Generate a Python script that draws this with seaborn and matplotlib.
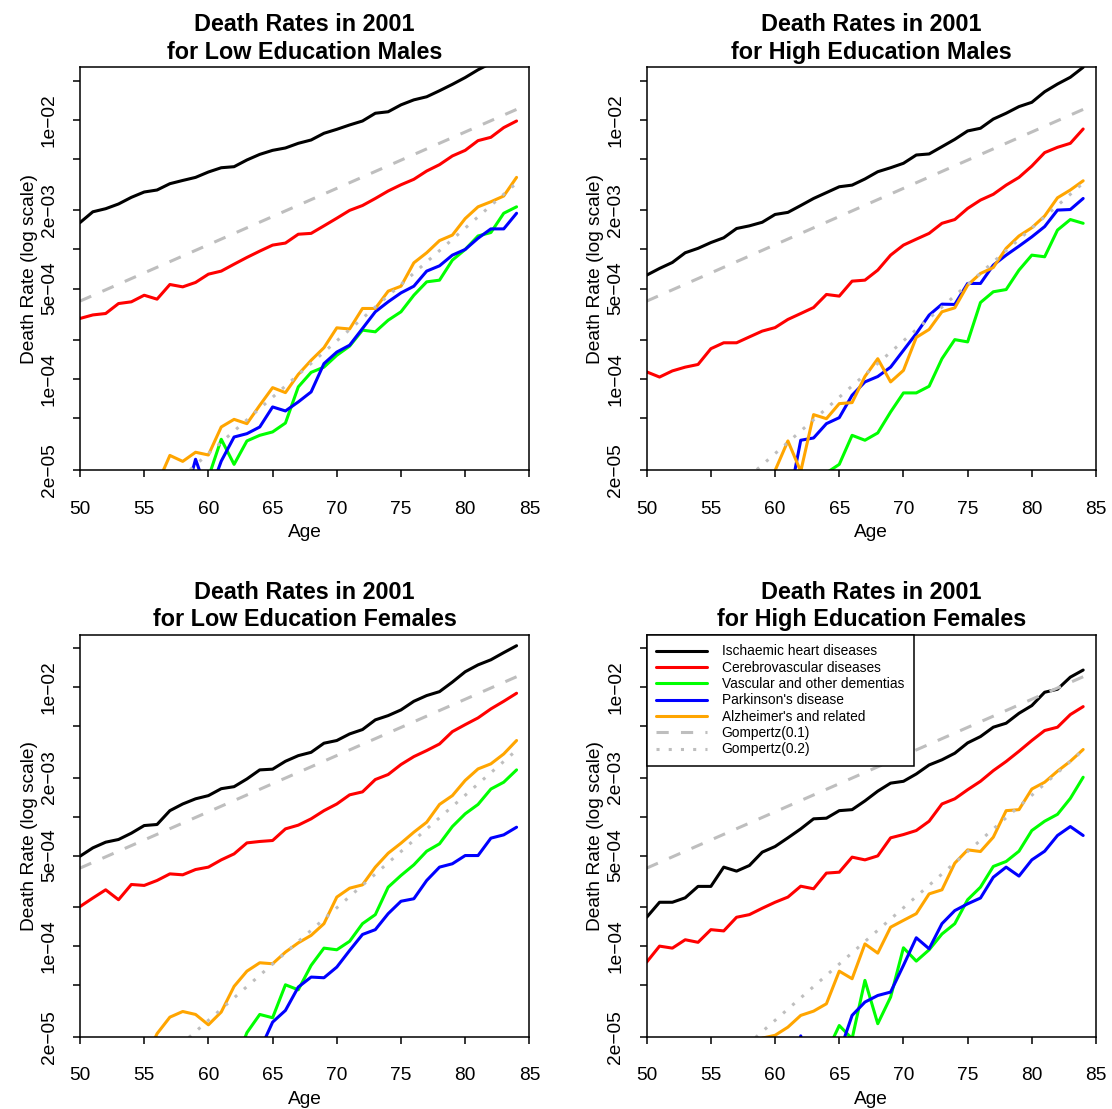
import numpy as np
import pandas as pd
import seaborn as sns
import matplotlib.pyplot as plt
from matplotlib.ticker import FixedLocator, FixedFormatter, NullLocator

# ages 50..84, death rates
ages = np.arange(50, 85)

# low education males
lm_ihd = [1.61e-3, 1.95e-3, 2.06e-3, 2.24e-3, 2.52e-3, 2.77e-3, 2.87e-3, 3.21e-3, 3.40e-3, 3.59e-3,
          3.95e-3, 4.26e-3, 4.34e-3, 4.89e-3, 5.40e-3, 5.80e-3, 6.05e-3, 6.57e-3, 6.97e-3, 7.85e-3,
          8.42e-3, 9.10e-3, 9.76e-3, 1.12e-2, 1.15e-2, 1.30e-2, 1.42e-2, 1.50e-2, 1.67e-2, 1.87e-2,
          2.11e-2, 2.42e-2, 2.72e-2, 3.06e-2, 3.44e-2]
lm_cvd = [2.94e-4, 3.13e-4, 3.21e-4, 3.83e-4, 3.95e-4, 4.44e-4, 4.14e-4, 5.37e-4, 5.15e-4, 5.57e-4,
          6.45e-4, 6.81e-4, 7.70e-4, 8.68e-4, 9.71e-4, 1.08e-3, 1.12e-3, 1.31e-3, 1.33e-3, 1.52e-3,
          1.74e-3, 2.00e-3, 2.18e-3, 2.47e-3, 2.82e-3, 3.15e-3, 3.47e-3, 4.02e-3, 4.50e-3, 5.25e-3,
          5.80e-3, 6.89e-3, 7.31e-3, 8.68e-3, 9.76e-3]
lm_vasc = [6e-6, 7e-6, 6e-6, 8e-6, 7e-6, 9e-6, 8e-6, 1.0e-5, 9e-6, 1.2e-5,
           1.75e-5, 3.45e-5, 2.21e-5, 3.35e-5, 3.70e-5, 3.93e-5, 4.60e-5, 8.73e-5, 1.13e-4, 1.24e-4,
           1.53e-4, 1.80e-4, 2.39e-4, 2.32e-4, 2.85e-4, 3.31e-4, 4.44e-4, 5.63e-4, 5.80e-4, 8.27e-4,
           1.00e-3, 1.27e-3, 1.35e-3, 1.90e-3, 2.13e-3]
lm_park = [5e-6, 6e-6, 5e-6, 7e-6, 6e-6, 8e-6, 7e-6, 9e-6, 1.04e-5, 2.42e-5,
           1.26e-5, 2.34e-5, 3.59e-5, 3.81e-5, 4.29e-5, 6.12e-5, 5.70e-5, 6.69e-5, 7.99e-5, 1.32e-4,
           1.62e-4, 1.83e-4, 2.46e-4, 3.31e-4, 3.95e-4, 4.63e-4, 5.21e-4, 6.81e-4, 7.48e-4, 9.04e-4,
           1.00e-3, 1.22e-3, 1.44e-3, 1.44e-3, 1.90e-3]
lm_alz = [7e-6, 8e-6, 9e-6, 8e-6, 1.0e-5, 1.1e-5, 1.54e-5, 2.59e-5, 2.33e-5, 2.74e-5,
          2.61e-5, 4.29e-5, 4.91e-5, 4.55e-5, 6.30e-5, 8.62e-5, 7.89e-5, 1.09e-4, 1.40e-4, 1.75e-4,
          2.49e-4, 2.44e-4, 3.51e-4, 3.51e-4, 4.77e-4, 5.21e-4, 7.89e-4, 9.43e-4, 1.17e-3, 1.29e-3,
          1.73e-3, 2.13e-3, 2.33e-3, 2.58e-3, 3.59e-3]

# high education males
hm_ihd = [6.34e-4, 7.14e-4, 7.94e-4, 9.43e-4, 1.02e-3, 1.13e-3, 1.23e-3, 1.45e-3, 1.52e-3, 1.62e-3,
          1.86e-3, 1.93e-3, 2.18e-3, 2.47e-3, 2.74e-3, 3.04e-3, 3.13e-3, 3.49e-3, 3.97e-3, 4.26e-3,
          4.61e-3, 5.34e-3, 5.44e-3, 6.19e-3, 7.05e-3, 8.18e-3, 8.58e-3, 1.01e-2, 1.12e-2, 1.26e-2,
          1.36e-2, 1.64e-2, 1.88e-2, 2.12e-2, 2.53e-2]
hm_cvd = [1.14e-4, 1.04e-4, 1.16e-4, 1.24e-4, 1.30e-4, 1.72e-4, 1.91e-4, 1.91e-4, 2.12e-4, 2.35e-4,
          2.50e-4, 2.89e-4, 3.21e-4, 3.57e-4, 4.50e-4, 4.37e-4, 5.70e-4, 5.80e-4, 6.93e-4, 9.04e-4,
          1.08e-3, 1.20e-3, 1.33e-3, 1.59e-3, 1.70e-3, 2.07e-3, 2.40e-3, 2.66e-3, 3.13e-3, 3.59e-3,
          4.39e-3, 5.57e-3, 6.12e-3, 6.57e-3, 8.47e-3]
hm_vasc = [5e-6, 6e-6, 5e-6, 6e-6, 7e-6, 6e-6, 8e-6, 7e-6, 9e-6, 8e-6,
           1.0e-5, 9e-6, 1.1e-5, 1.3e-5, 1.9e-5, 2.21e-5, 3.70e-5, 3.39e-5, 3.86e-5, 5.60e-5,
           7.85e-5, 7.85e-5, 8.83e-5, 1.44e-4, 2.02e-4, 1.94e-4, 3.90e-4, 4.72e-4, 4.91e-4, 6.93e-4,
           9.04e-4, 8.78e-4, 1.41e-3, 1.70e-3, 1.59e-3]
hm_park = [4e-6, 5e-6, 4e-6, 6e-6, 5e-6, 6e-6, 7e-6, 6e-6, 8e-6, 7e-6,
           9e-6, 1.05e-5, 3.39e-5, 3.53e-5, 4.55e-5, 5.06e-5, 7.53e-5, 9.54e-5, 1.05e-4, 1.24e-4,
           1.67e-4, 2.25e-4, 3.12e-4, 3.79e-4, 3.77e-4, 5.47e-4, 5.47e-4, 7.57e-4, 9.04e-4, 1.06e-3,
           1.25e-3, 1.50e-3, 2.01e-3, 2.03e-3, 2.47e-3]
hm_alz = [5e-6, 6e-6, 7e-6, 6e-6, 8e-6, 7e-6, 9e-6, 8e-6, 1.0e-5, 1.0e-5,
          1.98e-5, 3.35e-5, 1.95e-5, 5.34e-5, 4.97e-5, 6.49e-5, 6.61e-5, 1.05e-4, 1.44e-4, 9.54e-5,
          1.17e-4, 2.10e-4, 2.42e-4, 3.31e-4, 3.55e-4, 5.31e-4, 6.53e-4, 7.26e-4, 1.02e-3, 1.27e-3,
          1.47e-3, 1.81e-3, 2.50e-3, 2.87e-3, 3.38e-3]

# low education females
lf_ihd = [4.94e-4, 5.73e-4, 6.34e-4, 6.65e-4, 7.44e-4, 8.52e-4, 8.68e-4, 1.11e-3, 1.25e-3, 1.37e-3,
          1.45e-3, 1.64e-3, 1.70e-3, 1.95e-3, 2.29e-3, 2.32e-3, 2.67e-3, 2.95e-3, 3.13e-3, 3.68e-3,
          3.86e-3, 4.34e-3, 4.69e-3, 5.57e-3, 6.01e-3, 6.65e-3, 7.75e-3, 8.58e-3, 9.20e-3, 1.09e-2,
          1.31e-2, 1.48e-2, 1.62e-2, 1.84e-2, 2.08e-2]
lf_cvd = [2.02e-4, 2.35e-4, 2.72e-4, 2.28e-4, 2.99e-4, 2.94e-4, 3.21e-4, 3.61e-4, 3.55e-4, 3.90e-4,
          4.07e-4, 4.63e-4, 5.15e-4, 6.26e-4, 6.42e-4, 6.53e-4, 8.03e-4, 8.58e-4, 9.60e-4, 1.11e-3,
          1.25e-3, 1.47e-3, 1.55e-3, 1.93e-3, 2.11e-3, 2.52e-3, 2.90e-3, 3.23e-3, 3.63e-3, 4.52e-3,
          5.12e-3, 5.77e-3, 6.77e-3, 7.75e-3, 8.94e-3]
lf_vasc = [4e-6, 5e-6, 4e-6, 6e-6, 5e-6, 7e-6, 6e-6, 8e-6, 7e-6, 9e-6,
           1.0e-5, 1.1e-5, 1.2e-5, 2.15e-5, 2.97e-5, 2.80e-5, 5.03e-5, 4.60e-5, 7.10e-5, 9.65e-5,
           9.37e-5, 1.09e-4, 1.49e-4, 1.75e-4, 2.85e-4, 3.51e-4, 4.24e-4, 5.40e-4, 6.16e-4, 8.37e-4,
           1.05e-3, 1.24e-3, 1.63e-3, 1.84e-3, 2.29e-3]
lf_park = [3e-6, 4e-6, 4e-6, 5e-6, 4e-6, 5e-6, 6e-6, 6e-6, 7e-6, 8e-6,
           7e-6, 9e-6, 1.0e-5, 1.1e-5, 1.57e-5, 2.59e-5, 3.19e-5, 4.83e-5, 5.77e-5, 5.70e-5,
           6.89e-5, 9.26e-5, 1.23e-4, 1.34e-4, 1.78e-4, 2.22e-4, 2.32e-4, 3.21e-4, 4.07e-4, 4.32e-4,
           5.00e-4, 5.00e-4, 6.81e-4, 7.22e-4, 8.27e-4]
lf_alz = [6e-6, 7e-6, 8e-6, 9e-6, 1.1e-5, 1.29e-5, 2.11e-5, 2.83e-5, 3.13e-5, 2.97e-5,
          2.47e-5, 3.10e-5, 4.89e-5, 6.41e-5, 7.44e-5, 7.31e-5, 8.99e-5, 1.06e-4, 1.21e-4, 1.49e-4,
          2.39e-4, 2.80e-4, 2.97e-4, 4.07e-4, 5.21e-4, 6.23e-4, 7.57e-4, 9.04e-4, 1.24e-3, 1.45e-3,
          1.90e-3, 2.33e-3, 2.55e-3, 3.04e-3, 3.86e-3]

# high education females
hf_ihd = [1.67e-4, 2.18e-4, 2.18e-4, 2.36e-4, 2.89e-4, 2.89e-4, 4.07e-4, 3.79e-4, 4.19e-4, 5.31e-4,
          5.87e-4, 6.85e-4, 8.03e-4, 9.60e-4, 9.71e-4, 1.11e-3, 1.13e-3, 1.32e-3, 1.57e-3, 1.81e-3,
          1.87e-3, 2.13e-3, 2.50e-3, 2.74e-3, 3.08e-3, 3.70e-3, 4.14e-3, 4.89e-3, 5.25e-3, 6.26e-3,
          7.18e-3, 9.10e-3, 9.60e-3, 1.19e-2, 1.35e-2]
hf_cvd = [7.53e-5, 1.00e-4, 9.65e-5, 1.12e-4, 1.07e-4, 1.34e-4, 1.31e-4, 1.67e-4, 1.75e-4, 1.96e-4,
          2.18e-4, 2.39e-4, 2.90e-4, 2.77e-4, 3.66e-4, 3.72e-4, 4.86e-4, 4.63e-4, 4.97e-4, 6.85e-4,
          7.26e-4, 7.80e-4, 9.20e-4, 1.25e-3, 1.37e-3, 1.61e-3, 1.87e-3, 2.26e-3, 2.66e-3, 3.19e-3,
          3.86e-3, 4.61e-3, 4.89e-3, 6.12e-3, 7.05e-3]
hf_vasc = [3e-6, 4e-6, 3e-6, 4e-6, 5e-6, 4e-6, 5e-6, 6e-6, 5e-6, 7e-6,
           6e-6, 8e-6, 9e-6, 1.0e-5, 1.5e-5, 2.44e-5, 1.93e-5, 5.44e-5, 2.52e-5, 4.04e-5,
           9.71e-5, 7.66e-5, 9.37e-5, 1.24e-4, 1.49e-4, 2.28e-4, 2.85e-4, 4.12e-4, 4.50e-4, 5.40e-4,
           7.80e-4, 9.20e-4, 1.04e-3, 1.38e-3, 2.01e-3]
hf_park = [3e-6, 3e-6, 4e-6, 4e-6, 5e-6, 4e-6, 5e-6, 6e-6, 5e-6, 6e-6,
           7e-6, 6e-6, 2.03e-5, 8e-6, 9e-6, 1.5e-5, 2.92e-5, 3.70e-5, 4.16e-5, 4.42e-5,
           7.10e-5, 1.16e-4, 9.54e-5, 1.49e-4, 1.88e-4, 2.12e-4, 2.35e-4, 3.40e-4, 4.07e-4, 3.47e-4,
           4.63e-4, 5.40e-4, 7.14e-4, 8.37e-4, 7.14e-4]
hf_alz = [4e-6, 5e-6, 5e-6, 6e-6, 7e-6, 6e-6, 8e-6, 9e-6, 1.0e-5, 1.95e-5,
          2.05e-5, 2.37e-5, 2.92e-5, 3.15e-5, 3.59e-5, 6.41e-5, 5.60e-5, 1.04e-4, 8.83e-5, 1.40e-4,
          1.58e-4, 1.78e-4, 2.53e-4, 2.72e-4, 4.37e-4, 5.53e-4, 5.37e-4, 6.93e-4, 1.11e-3, 1.13e-3,
          1.63e-3, 1.84e-3, 2.24e-3, 2.67e-3, 3.29e-3]

causes = ["Ischaemic heart diseases", "Cerebrovascular diseases",
          "Vascular and other dementias", "Parkinson's disease", "Alzheimer's and related"]
colours = ["black", "#FF0000", "#00FF00", "#0000FF", "#FFA500"]

groups = ["Low Education Males", "High Education Males",
          "Low Education Females", "High Education Females"]
group_series = [
    [lm_ihd, lm_cvd, lm_vasc, lm_park, lm_alz],
    [hm_ihd, hm_cvd, hm_vasc, hm_park, hm_alz],
    [lf_ihd, lf_cvd, lf_vasc, lf_park, lf_alz],
    [hf_ihd, hf_cvd, hf_vasc, hf_park, hf_alz],
]

# Gompertz reference lines
gomp1_rate, gomp1_level_50 = 0.1, 4.0e-4
gomp2_rate, gomp2_level_84 = 0.2, 3.25e-3

ytick_vals = [2e-5, 5e-5, 1e-4, 2e-4, 5e-4, 1e-3, 2e-3, 5e-3, 1e-2, 2e-2]
ytick_labels = ["2e\u221205", "", "1e\u221204", "", "5e\u221204", "",
                "2e\u221203", "", "1e\u221202", ""]

sns.set_style("ticks")
plt.rcParams["font.family"] = ["Liberation Sans", "DejaVu Sans"]
plt.rcParams.update({"axes.edgecolor": "black", "xtick.color": "black",
                     "ytick.color": "black", "text.color": "black",
                     "axes.labelcolor": "black"})

W, H = 1112, 1109
fig = plt.figure(figsize=(W / 100, H / 100), dpi=100)

# axes boxes in pixels: left, right, top, bottom
boxes = [(80, 529.4, 67.3, 470), (646.7, 1096, 67.3, 470),
         (80, 529.4, 634.7, 1036.7), (646.7, 1096, 634.7, 1036.7)]

gray = "#BEBEBE"
for i, (grp, series, box) in enumerate(zip(groups, group_series, boxes)):
    l, r, t, b = box
    ax = fig.add_axes([l / W, 1 - b / H, (r - l) / W, (b - t) / H])
    for vals, name, col in zip(series, causes, colours):
        sns.lineplot(x=ages, y=vals, ax=ax, color=col, lw=2.2, label=name, legend=False)
    g1 = gomp1_level_50 * np.exp(gomp1_rate * (ages - 50))
    g2 = gomp2_level_84 * np.exp(gomp2_rate * (ages - 84))
    sns.lineplot(x=ages, y=g1, ax=ax, color=gray, lw=2.2, linestyle=(0, (4, 4)),
                 label="Gompertz(0.1)", legend=False)
    sns.lineplot(x=ages, y=g2, ax=ax, color=gray, lw=2.2, linestyle=(0, (1, 3)),
                 label="Gompertz(0.2)", legend=False)

    ax.set_yscale("log")
    ax.set_xlim(50, 85)
    ax.set_ylim(2e-5, 2.53e-2)
    ax.set_xticks([50, 55, 60, 65, 70, 75, 80, 85])
    ax.yaxis.set_major_locator(FixedLocator(ytick_vals))
    ax.yaxis.set_major_formatter(FixedFormatter(ytick_labels))
    ax.yaxis.set_minor_locator(NullLocator())
    ax.tick_params(axis="both", direction="out", length=5, width=1.1, labelsize=13.8)
    ax.tick_params(axis="x", pad=17)
    ax.tick_params(axis="y", pad=11)
    plt.setp(ax.get_yticklabels(), rotation=90, va="center")
    for sp in ax.spines.values():
        sp.set_visible(True)
        sp.set_linewidth(1.1)
        sp.set_color("black")

    ax.set_xlabel("Age", fontsize=13.8)
    ax.xaxis.set_label_coords(0.5, -0.134)
    ax.set_ylabel("Death Rate (log scale)", fontsize=13.8)
    ax.yaxis.set_label_coords(-0.094, 0.5)
    ax.set_title("Death Rates in 2001\nfor " + grp, fontsize=16.8,
                 fontweight="bold", pad=6, linespacing=1.25)

    if i == 3:
        leg = ax.legend(loc="upper left", bbox_to_anchor=(0, 1), borderaxespad=0,
                        frameon=True, fancybox=False, edgecolor="black", framealpha=1,
                        fontsize=9.9, handlelength=3.7, handletextpad=1.05,
                        labelspacing=0.17, borderpad=0.7)
        leg.get_frame().set_linewidth(1.1)

fig.savefig("out.png", dpi=100)
